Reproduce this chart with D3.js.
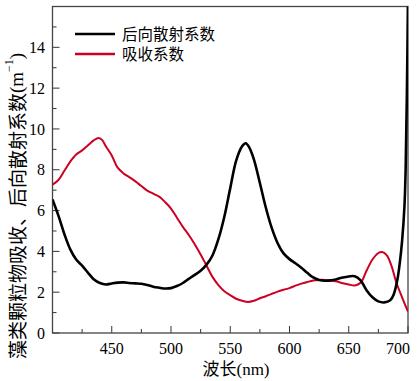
<!DOCTYPE html>
<html><head><meta charset="utf-8">
<script src="https://cdn.jsdelivr.net/npm/d3@7"></script>
<style>body{margin:0;background:#fff}svg{display:block}
.serif{font-family:"Liberation Serif","Times New Roman",Times,serif}
.cjk{font-family:"Noto Sans CJK SC","Noto Sans CJK JP",sans-serif}
</style>
</head><body>
<svg id="chart" width="418" height="381"></svg>
<script>
// Data
const bbWave = [400,405,410,415,420,425,430,435,440,445,450,455,460,465,470,475,480,485,490,495,500,505,510,515,520,525,530,535,540,545,550,555,560,563,566,570,575,580,585,590,595,600,605,610,615,620,625,630,635,640,645,650,655,660,665,670,675,680,685,688,691,693,695,697,698,699,700];
const bbValues = [6.55,5.75,4.85,4.1,3.6,3.3,2.95,2.62,2.45,2.38,2.43,2.47,2.48,2.45,2.43,2.41,2.35,2.27,2.22,2.18,2.2,2.3,2.45,2.65,2.85,3.05,3.35,3.8,4.6,5.7,7.1,8.45,9.15,9.3,9.1,8.5,7.35,6.15,5.15,4.4,3.9,3.62,3.42,3.2,2.95,2.72,2.6,2.56,2.58,2.64,2.72,2.77,2.78,2.58,2.1,1.75,1.55,1.5,1.6,1.9,2.6,3.4,4.5,6.2,8.0,11.5,16.5];
const absWave = [400,405,410,415,420,425,430,435,439,442,445,450,455,460,465,470,475,480,485,490,495,500,505,510,515,520,525,530,535,540,545,550,555,560,565,570,575,580,585,590,595,600,605,610,615,620,625,630,635,640,645,650,655,660,665,670,675,678,682,686,690,695,700];
const absValues = [7.27,7.5,7.95,8.4,8.75,8.95,9.2,9.45,9.55,9.45,9.15,8.7,8.1,7.82,7.63,7.43,7.2,6.98,6.83,6.68,6.42,6.1,5.65,5.2,4.8,4.35,3.85,3.3,2.75,2.35,2.05,1.85,1.68,1.58,1.52,1.58,1.7,1.8,1.92,2.03,2.12,2.2,2.32,2.42,2.5,2.57,2.6,2.6,2.57,2.52,2.44,2.38,2.33,2.46,3.05,3.6,3.92,3.97,3.82,3.3,2.5,1.75,1.05];
const seriesNames = ["后向散射系数","吸收系数"];
const seriesColors = ["#000000","#cc0022"];
const xTicks = [450,500,550,600,650,700];
const yTicks = [0,2,4,6,8,10,12,14];
const xTitle = "波长";
const yTitle = "藻类颗粒物吸收、后向散射系数";

const svg = d3.select("#chart");
const L = 52.5, R = 408, T = 6.5, B = 333;
const x = d3.scaleLinear().domain([400,700]).range([L,R]);
const y = d3.scaleLinear().domain([0,16]).range([B,T]);

svg.append("defs").append("clipPath").attr("id","clip")
  .append("rect").attr("x",L).attr("y",T).attr("width",R-L).attr("height",B-T);

// ticks (inward)
const gx = svg.append("g");
d3.range(425,700,50).forEach(v=>{
  gx.append("line").attr("x1",x(v)).attr("x2",x(v)).attr("y1",B).attr("y2",B-4).attr("stroke","#333").attr("stroke-width",1);
});
xTicks.forEach(v=>{
  gx.append("line").attr("x1",x(v)).attr("x2",x(v)).attr("y1",B).attr("y2",B-7).attr("stroke","#333").attr("stroke-width",1);
  gx.append("text").attr("class","serif").attr("x", v===700 ? x(v)-10 : x(v)).attr("y",354)
    .attr("text-anchor","middle").attr("font-size",16).text(v);
});
const gy = svg.append("g");
d3.range(1,16,2).forEach(v=>{
  gy.append("line").attr("x1",L).attr("x2",L+4).attr("y1",y(v)).attr("y2",y(v)).attr("stroke","#333").attr("stroke-width",1);
});
yTicks.forEach(v=>{
  gy.append("line").attr("x1",L).attr("x2",L+7).attr("y1",y(v)).attr("y2",y(v)).attr("stroke","#333").attr("stroke-width",1);
  gy.append("text").attr("class","serif").attr("x",45).attr("y",y(v)).attr("dy","0.35em")
    .attr("text-anchor","end").attr("font-size",16).text(v);
});

// frame
svg.append("rect").attr("x",L).attr("y",T).attr("width",R-L).attr("height",B-T)
  .attr("fill","none").attr("stroke","#444").attr("stroke-width",1.3);

const line = d3.line().x(d=>x(d[0])).y(d=>y(d[1])).curve(d3.curveCatmullRom.alpha(0.5));
const absData = absWave.map((w,i)=>[w,absValues[i]]);
const bbData = bbWave.map((w,i)=>[w,bbValues[i]]);
const gl = svg.append("g").attr("clip-path","url(#clip)");
gl.append("path").datum(absData).attr("d",line).attr("fill","none").attr("stroke",seriesColors[1]).attr("stroke-width",2);
gl.append("path").datum(bbData).attr("d",line).attr("fill","none").attr("stroke",seriesColors[0]).attr("stroke-width",2.6);

// legend
const lg = svg.append("g");
seriesNames.forEach((n,i)=>{
  const yy = 34 + i*20;
  lg.append("line").attr("x1",75).attr("x2",115).attr("y1",yy).attr("y2",yy)
    .attr("stroke",seriesColors[i]).attr("stroke-width",i===0?2.6:2.4);
  lg.append("text").attr("class","cjk").attr("x",122).attr("y",yy).attr("dy","0.36em")
    .attr("font-size",15.5).text(n);
});

// axis titles
const xt = svg.append("text").attr("x",236).attr("y",375).attr("text-anchor","middle").attr("font-size",17);
xt.append("tspan").attr("class","cjk").text(xTitle);
xt.append("tspan").attr("class","serif").text("(nm)");

const yt = svg.append("text").attr("transform","translate(16,206) rotate(-90)")
  .attr("text-anchor","middle").attr("dominant-baseline","central").attr("font-size",19);
yt.append("tspan").attr("class","cjk").text(yTitle);
yt.append("tspan").attr("class","serif").text("(m");
yt.append("tspan").attr("class","serif").attr("font-size",12).attr("dy",-7).text("−1");
yt.append("tspan").attr("class","serif").attr("dy",7).text(")");
</script>
</body></html>
